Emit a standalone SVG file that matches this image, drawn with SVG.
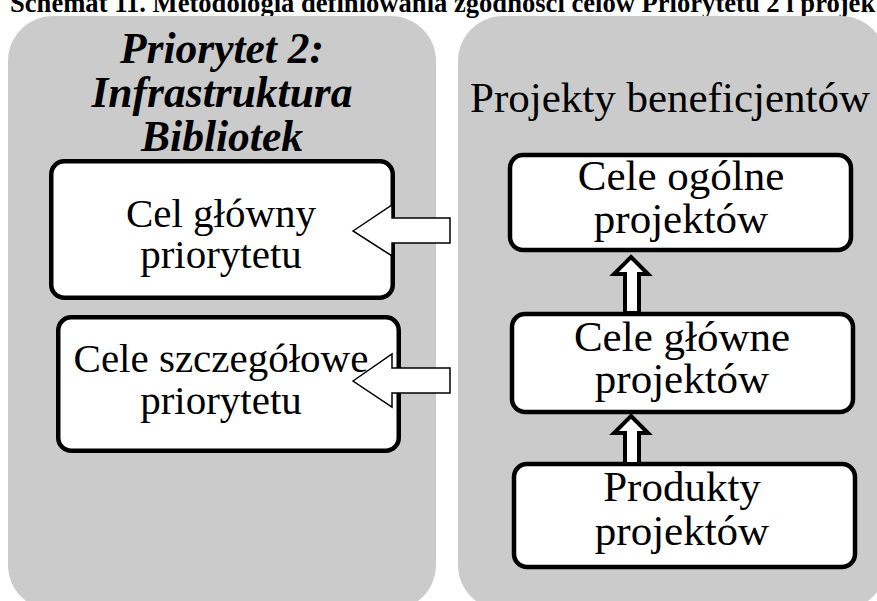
<svg xmlns="http://www.w3.org/2000/svg" width="877" height="601" viewBox="0 0 877 601">
<style>
.panel{fill:#cbcbcb;stroke:none}
.box{fill:#ffffff;stroke:#000;stroke-width:4.5}
.t{font-family:'Liberation Serif','Times New Roman',serif;font-size:41px;fill:#000;text-anchor:middle}
.r{font-size:43px}
.h{font-weight:bold;font-style:italic;font-size:43.5px}
.title{font-family:'Liberation Serif','Times New Roman',serif;font-size:26.6px;font-weight:bold;fill:#000}
.la{fill:#fff;stroke:#000;stroke-width:1.5;stroke-linejoin:miter}
.ua{fill:#fff;stroke:#000;stroke-width:4;stroke-linejoin:miter}
</style>
<rect width="877" height="601" fill="#fff"/>
<text class="title" x="10" y="12">Schemat 11. Metodologia definiowania zgodności celów Priorytetu 2 i projek</text>
<g id="panel-left">
<rect class="panel" x="8" y="16" width="428" height="594" rx="45" ry="45"/>
<text class="t h" x="222" y="63">Priorytet 2:</text>
<text class="t h" x="222" y="107">Infrastruktura</text>
<text class="t h" x="222" y="151">Bibliotek</text>
</g>
<g id="panel-right">
<rect class="panel" x="458" y="16" width="428" height="594" rx="45" ry="45"/>
<text class="t r" x="670" y="112">Projekty beneficjentów</text>
</g>
<g id="cel-glowny">
<rect class="box" x="51.25" y="161.25" width="341.5" height="136.5" rx="13"/>
<text class="t" x="221" y="227">Cel główny</text>
<text class="t" x="221" y="268">priorytetu</text>
</g>
<g id="cele-szczegolowe">
<rect class="box" x="58.25" y="317.25" width="340.5" height="133.5" rx="13"/>
<text class="t" x="221" y="372">Cele szczegółowe</text>
<text class="t" x="221" y="414">priorytetu</text>
</g>
<g id="cele-ogolne">
<rect class="box" x="510" y="155" width="341" height="95" rx="13"/>
<text class="t r" x="681" y="190">Cele ogólne</text>
<text class="t r" x="681" y="233">projektów</text>
</g>
<g id="cele-glowne">
<rect class="box" x="512" y="314" width="341" height="98" rx="13"/>
<text class="t r" x="682" y="351">Cele główne</text>
<text class="t r" x="682" y="393">projektów</text>
</g>
<g id="produkty">
<rect class="box" x="514" y="464" width="341" height="103" rx="13"/>
<text class="t r" x="682" y="501">Produkty</text>
<text class="t r" x="682" y="545">projektów</text>
</g>
<g id="connectors">
<polygon class="la" points="353,231 392,205 392,218 450,218 450,243 392,243 392,256"/>
<polygon class="la" points="353,381 392,354 392,368 450,368 450,393 392,393 392,407"/>
<polygon class="ua" points="631,257 648,274 639,274 639,313 625,313 625,274 614,274"/>
<polygon class="ua" points="631,416 648,433 639,433 639,464 625,464 625,433 614,433"/>
</g>
</svg>
